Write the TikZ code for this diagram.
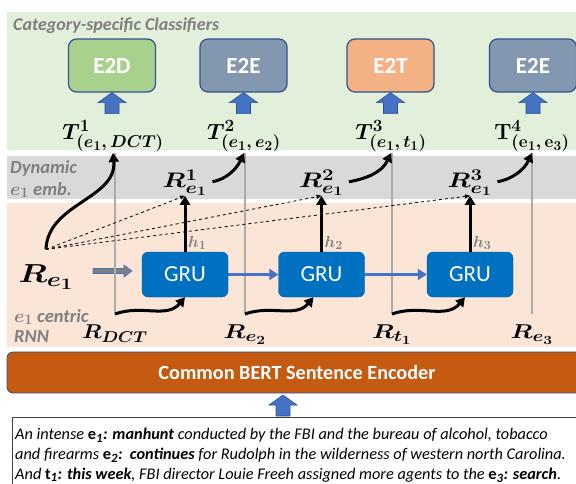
\RequirePackage{fix-cm}
\documentclass[tikz,border=0pt]{standalone}
\usepackage[no-math]{fontspec}
\setmainfont{Carlito}
\usepackage{amsmath,bm}
\renewcommand{\defaultscriptratio}{.78}
\renewcommand{\defaultscriptscriptratio}{.62}
\usetikzlibrary{arrows.meta,positioning}
\definecolor{bandgreen}{HTML}{E2EFDA}
\definecolor{bandgray}{HTML}{D9D9D9}
\definecolor{bandpeach}{HTML}{FBE5D6}
\definecolor{boxgreen}{HTML}{A9D18E}
\definecolor{boxslate}{HTML}{8497B0}
\definecolor{boxorange}{HTML}{F4B183}
\definecolor{edgeblue}{HTML}{2F528F}
\definecolor{arrblue}{HTML}{4472C4}
\definecolor{grublue}{HTML}{0070C0}
\definecolor{bertorange}{HTML}{C55A11}
\definecolor{labgray}{HTML}{7F7F7F}
\definecolor{linegray}{HTML}{ABABAB}
\newcommand{\wmath}[2][1.25]{\scalebox{#1}[1]{$\bm{#2}$}}
\newcommand{\blockup}[1]{\filldraw[fill=arrblue,draw=edgeblue,line width=0.6pt]
  (#1) -- ++(14,10) -- ++(-7,0) -- ++(0,11) -- ++(-14,0) -- ++(0,-11) -- ++(-7,0) -- cycle;}
\begin{document}
\begin{tikzpicture}[x=1pt,y=-1pt,
    clsbox/.style={draw=edgeblue,line width=1.2pt,rounded corners=8pt,minimum width=87pt,
      minimum height=53pt,text=white,font=\fontsize{23}{23}\selectfont\bfseries},
    grubox/.style={draw=grublue!85!black,fill=grublue,rounded corners=6pt,minimum width=86pt,
      minimum height=45pt,text=white,font=\fontsize{23}{23}\selectfont},
    tlab/.style={font=\fontsize{22}{22}\selectfont,inner sep=1pt,anchor=south},
    rlab/.style={font=\fontsize{20}{20}\selectfont,inner sep=1pt,anchor=north},
    rdyn/.style={font=\fontsize{21}{21}\selectfont,inner sep=0pt},
    hlab/.style={font=\fontsize{16}{16}\selectfont,text=labgray,inner sep=0pt},
    sidelab/.style={font=\fontsize{18.5}{18.5}\selectfont\bfseries\itshape,text=labgray,anchor=west,inner sep=0pt},
    vline/.style={linegray,line width=2.5pt},
    blk/.style={line width=3pt,-{Triangle[length=9pt,width=10pt]}},
    dsh/.style={dashed,line width=0.8pt,-{Triangle[length=5pt,width=4pt]}},
    rec/.style={arrblue,line width=3pt,-{Triangle[length=9pt,width=11pt]}},
    sent/.style={font=\fontsize{16.3}{16.3}\selectfont\itshape,anchor=west,inner sep=0pt}]
  \useasboundingbox (0,0) rectangle (576,484);
  \clip (0,0) rectangle (576,484);
  % bands
  \fill[bandgreen] (7,12) rectangle (576,150);
  \fill[bandgray] (7,156) rectangle (576,199);
  \fill[bandpeach] (7,203) rectangle (576,347);
  \node[sidelab,font=\fontsize{18}{18}\selectfont\bfseries\itshape] (cattitle) at (13,26) {Category-specific Classifiers};
  \node[sidelab] (dyn) at (10,168) {Dynamic};
  \node[sidelab] (dynemb) at (10,190) {$\bm{e_1}$ emb.};
  \node[sidelab] (cent) at (14,317) {$\bm{e_1}$ centric};
  \node[sidelab] (rnn) at (14,337) {RNN};
  % classifiers
  \node[clsbox,fill=boxgreen] (e2d) at (112,65.5) {E2D};
  \node[clsbox,fill=boxslate] (e2ea) at (243.5,65.5) {E2E};
  \node[clsbox,fill=boxorange] (e2t) at (390.5,65.5) {E2T};
  \node[clsbox,fill=boxslate] (e2eb) at (533,65.5) {E2E};
  \blockup{e2d.south}
  \blockup{e2ea.south}
  \blockup{e2t.south}
  \blockup{e2eb.south}
  \node[tlab] (tone) at (113,153) {$\bm{T^{1}_{(e_1,\,DCT)}}$};
  \node[tlab] (ttwo) at (244,153) {$\bm{T^{2}_{(e_1,\,e_2)}}$};
  \node[tlab] (tthree) at (391,153) {$\bm{T^{3}_{(e_1,\,t_1)}}$};
  \node[tlab] (tfour) at (532,153) {$\bm{\mathbf{T}^{4}_{(\mathbf{e}_{1},\,\mathbf{e}_{3})}}$};
  % rnn
  \node[grubox] (gruone) at (185,274.5) {GRU};
  \node[grubox] (grutwo) at (321.5,274.5) {GRU};
  \node[grubox] (gruthree) at (470,274.5) {GRU};
  \node[rdyn,above=56pt of gruone] (rone) {\wmath{R^{1}_{e_1}}};
  \node[rdyn,above=56pt of grutwo] (rtwo) {\wmath{R^{2}_{e_1}}};
  \node[rdyn,above=56pt of gruthree] (rthree) {\wmath{R^{3}_{e_1}}};
  \node[hlab,above right=2pt and 3pt of gruone.north] (hone) {$\bm{h_1}$};
  \node[hlab,above right=2pt and 3pt of grutwo.north] (htwo) {$\bm{h_2}$};
  \node[hlab,above right=2pt and 3pt of gruthree.north] (hthree) {$\bm{h_3}$};
  \node[font=\fontsize{26}{26}\selectfont,inner sep=1pt] (reone) at (46,277) {\wmath{R_{e_1}}};
  \coordinate (reonetop) at ([yshift=14pt]reone.north);
  \filldraw[fill=labgray,draw=arrblue,line width=0.6pt] (93,268.5) -- ++(31,0) -- ++(0,-3.5)
    -- ++(8,6) -- ++(-8,6) -- ++(0,-3.5) -- ++(-31,0) -- cycle;
  \node[rlab] (rdct) at (115,324) {\wmath[1.1]{R_{DCT}}};
  \node[rlab] (retwo) at (245,324) {\wmath{R_{e_2}}};
  \node[rlab] (rtone) at (392,324) {\wmath{R_{t_1}}};
  \node[rlab] (rethree) at (532,324) {\wmath{R_{e_3}}};
  \coordinate (dctfoot) at ([yshift=10pt]rdct.north);
  \coordinate (etwofoot) at ([yshift=10pt]retwo.north);
  \coordinate (tonefoot) at ([yshift=10pt]rtone.north);
  \coordinate (ethreefoot) at ([yshift=10pt]rethree.north);
  \draw[vline] (dctfoot) -- (dctfoot |- tone.south);
  \draw[vline] (etwofoot) -- (etwofoot |- ttwo.south);
  \draw[vline] (tonefoot) -- (tonefoot |- tthree.south);
  \draw[vline] (ethreefoot) -- (ethreefoot |- tfour.south);
  \draw[dsh] (reonetop) -- (rone.south);
  \draw[dsh] (reonetop) -- (rtwo.south);
  \draw[dsh] (reonetop) -- (rthree.south);
  \draw[blk] (reonetop) to[out=88,in=-85] (tone.south);
  \draw[blk,shorten <=5pt] (rone.east) to[out=10,in=-115] (ttwo.south);
  \draw[blk,shorten <=5pt] (rtwo.east) to[out=10,in=-115] (tthree.south);
  \draw[blk,shorten <=5pt] (rthree.east) to[out=10,in=-115] (tfour.south);
  \draw[blk] (gruone) -- (rone);
  \draw[blk] (grutwo) -- (rtwo);
  \draw[blk] (gruthree) -- (rthree);
  \draw[blk] (dctfoot) to[out=20,in=-130] (gruone.south);
  \draw[blk] (etwofoot) to[out=20,in=-130] ([xshift=-8pt]grutwo.south);
  \draw[blk] (tonefoot) to[out=20,in=-130] ([xshift=-5pt]gruthree.south);
  \draw[rec] (gruone) -- (grutwo);
  \draw[rec] (grutwo) -- (gruthree);
  % encoder and sentence
  \node[fill=bertorange,draw=edgeblue,line width=0.8pt,rounded corners=6pt,minimum width=580pt,
    minimum height=41pt,text=white,font=\fontsize{20.2}{20.2}\selectfont\bfseries] (bert) at (297,372.5)
    {Common BERT Sentence Encoder};
  \coordinate (berttip) at (283,395);
  \blockup{berttip}
  \draw[black!75,line width=0.8pt] (12,417) rectangle (600,500);
  \node[sent] (lineone) at (15,435) {An intense \textbf{{\upshape e}\textsubscript{1}: manhunt} conducted by the FBI and the bureau of alcohol, tobacco};
  \node[sent] (linetwo) at (15,455) {and firearms \textbf{{\upshape e}\textsubscript{2}:\ \ continues} for Rudolph in the wilderness of western north Carolina.};
  \node[sent] (linethree) at (15,475) {And \textbf{{\upshape t}\textsubscript{1}: this week}, FBI director Louie Freeh assigned more agents to the \textbf{{\upshape e}\textsubscript{3}: search}.};
\end{tikzpicture}
\end{document}
